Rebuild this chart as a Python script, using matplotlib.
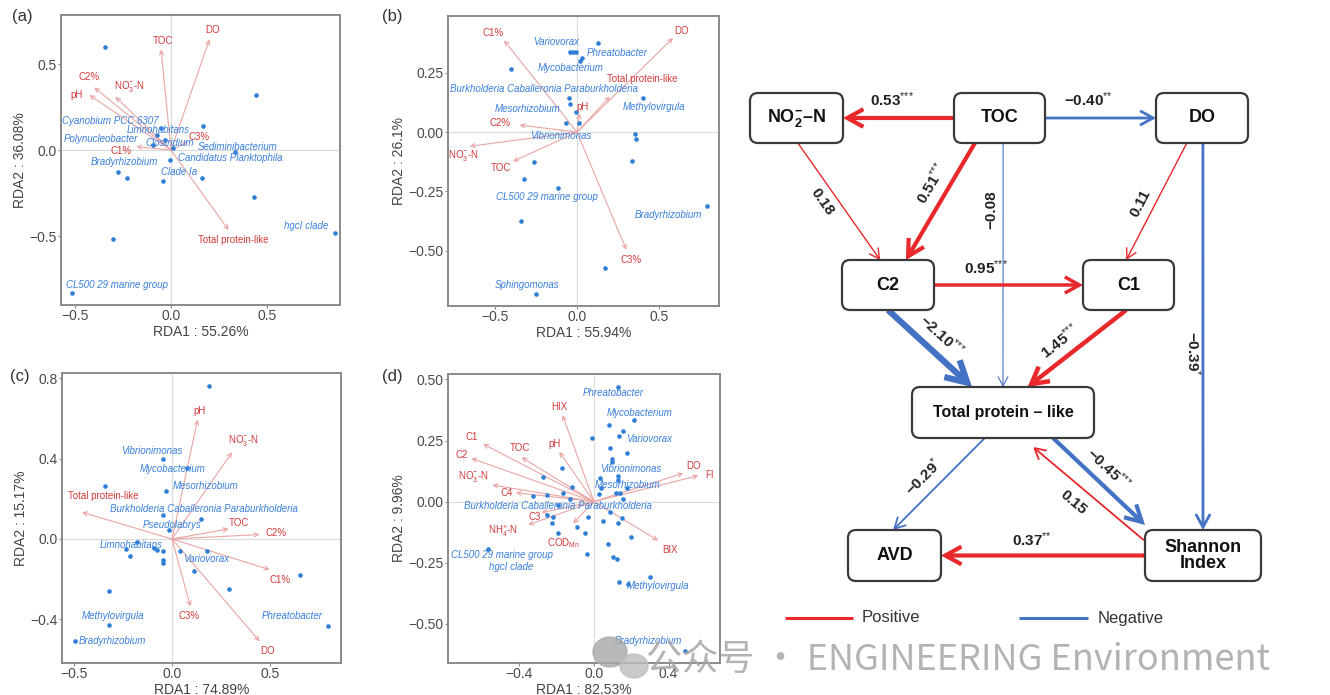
import matplotlib
matplotlib.use("Agg")
import matplotlib.pyplot as plt
from matplotlib.patches import FancyBboxPatch, FancyArrowPatch, Ellipse
import numpy as np

plt.rcParams['font.family'] = ['Liberation Sans', 'DejaVu Sans']
plt.rcParams['mathtext.fontset'] = 'custom'
plt.rcParams['mathtext.rm'] = 'Liberation Sans'
plt.rcParams['mathtext.it'] = 'Liberation Sans:italic'
plt.rcParams['mathtext.bf'] = 'Liberation Sans:bold'

W, H = 1330, 695

# ---------------- panel (a) ----------------
a_site_x = [-0.342, 0.443, 0.167, 0.333, -0.276, -0.229, -0.042, 0.161, 0.432, 0.856, -0.304, -0.514,
            -0.052, -0.073, -0.094, -0.031, 0.01, -0.005]
a_site_y = [0.60, 0.32, 0.14, -0.012, -0.128, -0.163, -0.18, -0.163, -0.27, -0.484, -0.519, -0.833,
            0.128, 0.087, 0.029, 0.058, 0.012, -0.058]
a_sp = ['Cyanobium PCC 6307', 'Limnohabitans', 'Polynucleobacter', 'Clostridium', 'Sediminibacterium',
        'Candidatus Planktophila', 'Bradyrhizobium', 'Clade Ia', 'hgcI clade', 'CL500 29 marine group']
a_sp_x = [-0.57, -0.23, -0.56, -0.135, 0.14, 0.035, -0.42, -0.052, 0.59, -0.547]
a_sp_y = [0.17, 0.116, 0.062, 0.04, 0.016, -0.047, -0.068, -0.126, -0.44, -0.785]
a_env = ['DO', 'TOC', 'C2%', r'NO$_3^{-}$-N', 'pH', 'C1%', 'C3%', 'Total protein-like']
a_env_x = [0.20, -0.052, -0.40, -0.29, -0.425, -0.18, 0.09, 0.30]
a_env_y = [0.643, 0.585, 0.364, 0.31, 0.32, 0.02, 0.05, -0.465]
a_lab_x = [0.215, -0.04, -0.425, -0.217, -0.49, -0.26, 0.148, 0.325]
a_lab_y = [0.70, 0.636, 0.422, 0.372, 0.32, -0.004, 0.074, -0.52]

# ---------------- panel (b) ----------------
b_site_x = [0.126, -0.045, -0.024, -0.004, 0.032, 0.016, -0.40, 0.40, -0.05, -0.045, -0.008, -0.07, 0.01,
            0.353, 0.36, 0.337, -0.264, -0.325, -0.114, 0.79, -0.34, 0.172, -0.25]
b_site_y = [0.376, 0.337, 0.337, 0.337, 0.313, 0.30, 0.266, 0.146, 0.144, 0.12, 0.083, 0.038, 0.04,
            -0.007, -0.03, -0.124, -0.127, -0.197, -0.237, -0.31, -0.377, -0.572, -0.683]
b_sp = ['Variovorax', 'Phreatobacter', 'Mycobacterium', 'Burkholderia Caballeronia Paraburkholderia',
        'Mesorhizobium', 'Methylovirgula', 'Vibrionimonas', 'CL500 29 marine group', 'Bradyrhizobium',
        'Sphingomonas']
b_sp_x = [-0.268, 0.057, -0.237, -0.775, -0.50, 0.28, -0.288, -0.49, 0.35, -0.50]
b_sp_y = [0.38, 0.334, 0.27, 0.18, 0.097, 0.104, -0.018, -0.272, -0.35, -0.645]
b_env = ['C1%', 'DO', 'Total protein-like', 'pH', 'C2%', r'NO$_3^{-}$-N', 'TOC', 'C3%']
b_env_x = [-0.444, 0.584, 0.20, 0.016, -0.35, -0.653, -0.39, 0.30]
b_env_y = [0.387, 0.397, 0.15, 0.08, 0.03, -0.06, -0.124, -0.497]
b_lab_x = [-0.51, 0.635, 0.40, 0.035, -0.47, -0.69, -0.46, 0.33]
b_lab_y = [0.42, 0.425, 0.224, 0.104, 0.04, -0.10, -0.152, -0.54]

# ---------------- panel (c) ----------------
c_site_x = [0.187, -0.048, 0.077, -0.343, -0.031, -0.048, 0.148, -0.017, -0.179, -0.233, -0.213, -0.09,
            -0.077, -0.048, -0.048, -0.048, 0.039, 0.179, 0.114, 0.293, 0.655, -0.32, -0.32, -0.493, 0.796]
c_site_y = [0.76, 0.40, 0.354, 0.262, 0.238, 0.121, 0.101, 0.047, -0.017, -0.05, -0.086, -0.045,
            -0.053, -0.061, -0.106, -0.12, -0.061, -0.061, -0.161, -0.25, -0.178, -0.26, -0.427, -0.507, -0.432]
c_sp = ['Vibrionimonas', 'Mycobacterium', 'Mesorhizobium', 'Burkholderia Caballeronia Paraburkholderia',
        'Pseudolabrys', 'Limnohabitans', 'Variovorax', 'Methylovirgula', 'Bradyrhizobium', 'Phreatobacter']
c_sp_x = [-0.26, -0.165, 0.003, -0.318, -0.148, -0.369, 0.056, -0.463, -0.476, 0.459]
c_sp_y = [0.437, 0.35, 0.262, 0.151, 0.068, -0.032, -0.098, -0.385, -0.507, -0.382]
c_env = ['pH', r'NO$_3^{-}$-N', 'Total protein-like', 'TOC', 'C2%', 'C1%', 'C3%', 'DO']
c_env_x = [0.131, 0.306, -0.459, 0.289, 0.447, 0.498, 0.094, 0.447]
c_env_y = [0.595, 0.432, 0.133, 0.05, 0.022, -0.153, -0.336, -0.51]
c_lab_x = [0.14, 0.362, -0.35, 0.34, 0.53, 0.55, 0.085, 0.485]
c_lab_y = [0.636, 0.49, 0.213, 0.08, 0.03, -0.203, -0.385, -0.556]

# ---------------- panel (d) ----------------
d_site_x = [0.127, 0.216, 0.08, 0.157, 0.134, -0.009, 0.086, 0.179, 0.095, 0.098, -0.17, -0.275, 0.032,
            0.13, 0.127, -0.12, 0.175, 0.14, 0.12, 0.038, 0.029, -0.326, -0.249, -0.165, -0.129, 0.157,
            -0.191, 0.086, -0.254, -0.218, -0.227, -0.03, 0.152, 0.05, 0.131, -0.089, -0.191, -0.048,
            0.199, 0.077, -0.039, 0.104, 0.122, 0.184, 0.136, 0.30, 0.488, -0.567]
d_site_y = [0.47, 0.334, 0.313, 0.289, 0.268, 0.262, 0.218, 0.198, 0.173, 0.163, 0.136, 0.10, 0.095,
            0.105, 0.089, 0.061, 0.054, 0.037, 0.034, 0.054, 0.031, 0.023, 0.027, 0.037, 0.01, 0.01,
            -0.014, -0.041, -0.054, -0.061, -0.086, -0.061, -0.065, -0.079, -0.089, -0.102, -0.127, -0.129,
            -0.143, -0.173, -0.214, -0.225, -0.236, -0.336, -0.33, -0.307, -0.609, -0.193]
d_sp = ['Phreatobacter', 'Mycobacterium', 'Variovorax', 'Vibrionimonas', 'Mesorhizobium',
        'Burkholderia Caballeronia Paraburkholderia', 'CL500 29 marine group', 'hgcI clade',
        'Methylovirgula', 'Bradyrhizobium']
d_sp_x = [-0.061, 0.068, 0.175, 0.036, 0.005, -0.698, -0.764, -0.562, 0.175, 0.113]
d_sp_y = [0.443, 0.364, 0.255, 0.132, 0.068, -0.018, -0.218, -0.268, -0.345, -0.572]
d_env = ['HIX', 'C1', 'TOC', 'pH', 'C2', r'NO$_3^{-}$-N', 'C4', 'C3', r'NH$_4^{+}$-N', r'COD$_{\mathrm{Mn}}$',
         'BIX', 'DO', 'FI']
d_env_x = [-0.168, -0.594, -0.388, -0.186, -0.657, -0.544, -0.419, -0.281, -0.352, -0.111, 0.345, 0.479, 0.56]
d_env_y = [0.354, 0.236, 0.181, 0.204, 0.177, 0.068, 0.037, -0.045, -0.095, -0.089, -0.159, 0.116, 0.106]
d_lab_x = [-0.186, -0.657, -0.397, -0.209, -0.71, -0.648, -0.469, -0.317, -0.487, -0.165, 0.408, 0.533, 0.619]
d_lab_y = [0.388, 0.263, 0.218, 0.234, 0.19, 0.102, 0.037, -0.061, -0.123, -0.168, -0.198, 0.147, 0.109]

# ---------------- path model ----------------
nodes = ['NO2', 'TOC', 'DO', 'C2', 'C1', 'Total', 'AVD', 'Shannon']
node_text = [r'NO$_{\mathbf{2}}^{\mathbf{-}}$–N', 'TOC', 'DO', 'C2', 'C1', 'Total protein – like', 'AVD',
             'Shannon\nIndex']
edge_from = ['TOC', 'TOC', 'NO2', 'TOC', 'TOC', 'DO', 'DO', 'C2', 'C2', 'C1', 'Total', 'Total', 'Shannon', 'Shannon']
edge_to = ['NO2', 'DO', 'C2', 'C2', 'Total', 'C1', 'Shannon', 'C1', 'Total', 'Total', 'AVD', 'Shannon', 'Total', 'AVD']
edge_coef = [0.53, -0.40, 0.18, 0.51, -0.08, 0.11, -0.39, 0.95, -2.10, 1.45, -0.29, -0.45, 0.15, 0.37]
edge_sig = ['***', '**', '', '***', '', '', '*', '***', '***', '***', '*', '***', '', '**']

# layout of the path diagram (pixels): centre x, centre y, width, height
node_box = {'NO2': (796.5, 118, 93, 50), 'TOC': (999.5, 118, 91, 50), 'DO': (1202, 118, 92, 50),
            'C2': (888, 285, 92, 50), 'C1': (1128.5, 285, 91, 50), 'Total': (1003, 412.5, 182, 51),
            'AVD': (894.5, 555.5, 93, 51), 'Shannon': (1203, 555.5, 116, 51)}
# anchors as fractions of half width / half height
edge_anchor = [((-1, 0), (1, 0)), ((1, 0), (-1, 0)), ((0.03, 1), (-0.17, -1)), ((-0.54, 1), (0.39, -1)),
               ((0.08, 1), (0, -1)), ((-0.33, 1), (-0.05, -1)), ((0.02, 1), (0, -1)), ((1, 0), (-1, 0)),
               ((0, 1), (-0.34, -1)), ((-0.05, 1), (0.27, -1)), ((-0.2, 1), (-0.03, -1)),
               ((0.55, 1), (-1.0, -1.2)), ((-1.02, -0.6), (0.33, 1.35)), ((-1, 0), (1, 0))]
edge_lw = [3.0, 2.0, 1.0, 3.0, 0.8, 1.0, 2.0, 2.5, 4.5, 3.2, 1.3, 3.0, 1.3, 3.0]
label_off = [(-6, -18), (-12, -18), (-17, 0), (-9, -18), (-12, -55), (-16, 2), (-10, 17), (-22, -17),
             (12, -13), (-17, -7), (-16, -7), (10, -13), (-15, 9), (-11, -16)]

RED_T = '#d23a3a'
RED_A = '#eaa5a5'
BLUE_P = '#2f7fd8'
BLUE_T = '#3a80dc'
POS = '#e8282b'
NEG = '#4472c4'

fig = plt.figure(figsize=(W / 100, H / 100), dpi=100)


def px_rect(l, t, r, b):
    return [l / W, 1 - b / H, (r - l) / W, (b - t) / H]


def rda(rect, sx, sy, spn, spx, spy, en, ex, ey, lx, ly, xlim, ylim, xt, yt, xfmt, yfmt, xlab, ylab):
    ax = fig.add_axes(px_rect(*rect))
    ax.axhline(0, color='#dcdcdc', lw=0.9, zorder=0)
    ax.axvline(0, color='#dcdcdc', lw=0.9, zorder=0)
    for x, y in zip(ex, ey):
        ax.annotate('', xy=(x, y), xytext=(0, 0),
                    arrowprops=dict(arrowstyle='->,head_length=0.3,head_width=0.15', color=RED_A,
                                    lw=0.8, shrinkA=0, shrinkB=0), zorder=1)
    ax.scatter(sx, sy, s=11, color=BLUE_P, linewidths=0, zorder=3)
    for n, x, y in zip(spn, spx, spy):
        ax.text(x, y, n, fontsize=7, style='italic', color=BLUE_T, ha='left', va='center', zorder=4)
    for n, x, y in zip(en, lx, ly):
        ax.text(x, y, n, fontsize=7, color=RED_T, ha='center', va='center', zorder=4)
    ax.set_xlim(*xlim)
    ax.set_ylim(*ylim)
    ax.set_xticks(xt)
    ax.set_xticklabels([xfmt.format(v).replace('-', '\u2212') for v in xt])
    ax.set_yticks(yt)
    ax.set_yticklabels([yfmt.format(v).replace('-', '\u2212') for v in yt])
    for s in ax.spines.values():
        s.set_color('#8a8a8a')
        s.set_linewidth(1.4)
    ax.tick_params(length=2, width=0.8, color='#8a8a8a', labelsize=10, labelcolor='#4a4a4a', pad=1)
    ax.set_xlabel(xlab, fontsize=10, color='#444444', labelpad=1)
    ax.set_ylabel(ylab, fontsize=10, color='#444444', labelpad=2)
    return ax


rda((61, 15, 340, 305), a_site_x, a_site_y, a_sp, a_sp_x, a_sp_y, a_env, a_env_x, a_env_y, a_lab_x, a_lab_y,
    (-0.573, 0.88), (-0.90, 0.785), [-0.5, 0.0, 0.5], [-0.5, 0.0, 0.5], '{:.1f}', '{:.1f}',
    'RDA1 : 55.26%', 'RDA2 : 36.08%')
rda((448, 16, 719, 306), b_site_x, b_site_y, b_sp, b_sp_x, b_sp_y, b_env, b_env_x, b_env_y, b_lab_x, b_lab_y,
    (-0.785, 0.864), (-0.734, 0.49), [-0.5, 0.0, 0.5], [-0.5, -0.25, 0.0, 0.25], '{:.1f}', '{:.2f}',
    'RDA1 : 55.94%', 'RDA2 : 26.1%')
rda((62, 373, 341, 663), c_site_x, c_site_y, c_sp, c_sp_x, c_sp_y, c_env, c_env_x, c_env_y, c_lab_x, c_lab_y,
    (-0.561, 0.862), (-0.618, 0.827), [-0.5, 0.0, 0.5], [-0.4, 0.0, 0.4, 0.8], '{:.1f}', '{:.1f}',
    'RDA1 : 74.89%', 'RDA2 : 15.17%')
rda((448, 374, 720, 663), d_site_x, d_site_y, d_sp, d_sp_x, d_sp_y, d_env, d_env_x, d_env_y, d_lab_x, d_lab_y,
    (-0.782, 0.676), (-0.66, 0.522), [-0.4, 0.0, 0.4], [-0.5, -0.25, 0.0, 0.25, 0.5], '{:.1f}', '{:.2f}',
    'RDA1 : 82.53%', 'RDA2 : 9.96%')

for lab, x, y in [('(a)', 22, 17), ('(b)', 392, 17), ('(c)', 20, 376), ('(d)', 392, 376)]:
    fig.text(x / W, 1 - y / H, lab, fontsize=12, color='#333333', ha='center', va='center')

# ---------------- path diagram overlay ----------------
net = fig.add_axes([0, 0, 1, 1])
net.set_xlim(0, W)
net.set_ylim(H, 0)
net.axis('off')
net.patch.set_alpha(0)


def anchor(name, f):
    cx, cy, w, h = node_box[name]
    return cx + f[0] * w / 2, cy + f[1] * h / 2


for i in range(len(edge_from)):
    p0 = anchor(edge_from[i], edge_anchor[i][0])
    p1 = anchor(edge_to[i], edge_anchor[i][1])
    col = POS if edge_coef[i] > 0 else NEG
    lw = edge_lw[i]
    ms = 5 + 2.2 * lw
    arr = FancyArrowPatch(p0, p1, arrowstyle='->,head_length=1.0,head_width=0.55', mutation_scale=ms,
                          color=col, lw=lw, shrinkA=0, shrinkB=0, capstyle='butt', joinstyle='miter', zorder=2)
    net.add_patch(arr)
    # label along the edge
    ang = np.degrees(np.arctan2(-(p1[1] - p0[1]), p1[0] - p0[0]))
    if ang > 90:
        ang -= 180
    elif ang <= -90:
        ang += 180
    mx, my = (p0[0] + p1[0]) / 2 + label_off[i][0], (p0[1] + p1[1]) / 2 + label_off[i][1]
    txt = '{:.2f}'.format(edge_coef[i]).replace('-', '\u2212')
    if edge_sig[i]:
        txt += '$^{' + '{*}' * len(edge_sig[i]) + '}$'
    net.text(mx, my, txt, fontsize=11, fontweight='bold', color='#222222', rotation=ang,
             rotation_mode='anchor', ha='center', va='center', zorder=4)

for name, t in zip(nodes, node_text):
    cx, cy, w, h = node_box[name]
    box = FancyBboxPatch((cx - w / 2, cy - h / 2), w, h, boxstyle='round,pad=0,rounding_size=8',
                         fc='white', ec='#3a3a3a', lw=1.6, zorder=3)
    net.add_patch(box)
    fs = 11.5 if name == 'Total' else 13
    net.text(cx, cy, t, fontsize=fs, fontweight='bold', color='#111111', ha='center', va='center',
             linespacing=0.95, zorder=5)

# legend
net.plot([785, 853], [618, 618], color=POS, lw=2.2, solid_capstyle='butt')
net.text(862, 618, 'Positive', fontsize=12, color='#333333', ha='left', va='center')
net.plot([1019, 1088], [618, 618], color=NEG, lw=2.2, solid_capstyle='butt')
net.text(1098, 618, 'Negative', fontsize=12, color='#333333', ha='left', va='center')

# watermark
net.add_patch(Ellipse((610, 652), 34, 30, color='#a8a8a8', alpha=0.8, zorder=6))
net.add_patch(Ellipse((634, 666), 28, 24, color='#bdbdbd', alpha=0.8, zorder=6))
net.text(646, 660, '公众号 · ENGINEERING Environment', fontsize=26, color='#a6a6a6', alpha=0.85,
         family=['Noto Sans CJK SC', 'DejaVu Sans'], ha='left', va='center', zorder=7)

fig.savefig('out.png', dpi=100)
